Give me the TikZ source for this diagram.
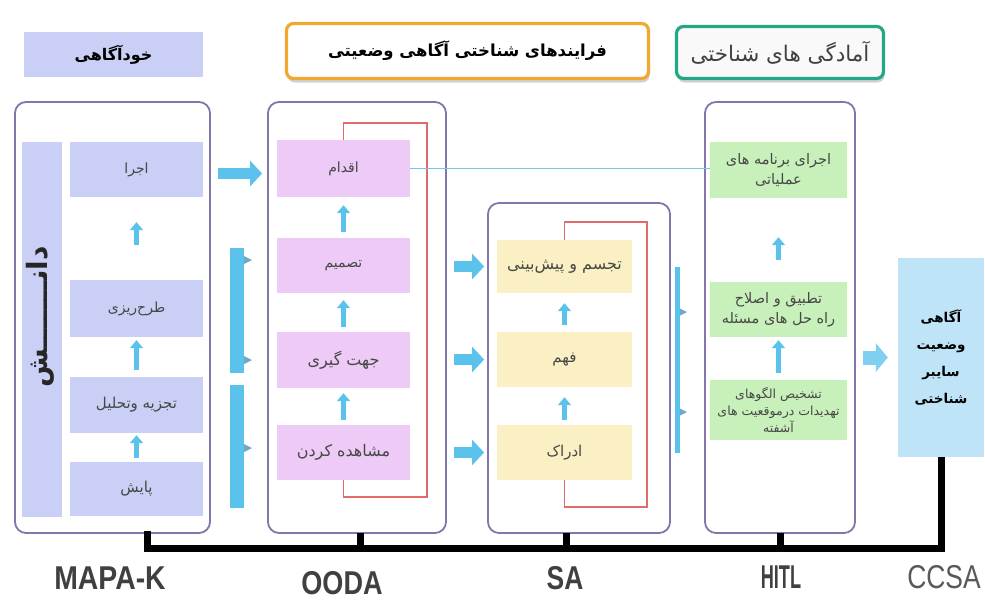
\documentclass[tikz,border=0pt]{standalone}
\usepackage{fontspec}
\setmainfont{Liberation Sans}
\newfontfamily\arabicfont[Script=Arabic]{DejaVu Sans}
\TeXXeTstate=1
\usetikzlibrary{arrows.meta,shadows}
\newcommand{\fatxt}[1]{{\arabicfont\beginR #1\endR}}
\definecolor{lav}{HTML}{C9CFF5}
\definecolor{pinkb}{HTML}{EDCBF6}
\definecolor{yel}{HTML}{FAF0C4}
\definecolor{grn}{HTML}{C8F0BA}
\definecolor{framec}{HTML}{8276AC}
\definecolor{cyanA}{HTML}{5BC3EB}
\definecolor{cyanB}{HTML}{7FCFF0}
\definecolor{redl}{HTML}{E26A6A}
\definecolor{ccsac}{HTML}{BFE4F8}
\definecolor{orangeb}{HTML}{F0A830}
\definecolor{tealb}{HTML}{22A884}
\definecolor{lineb}{HTML}{7DC0EA}
\definecolor{tickc}{HTML}{6FA9C9}
\begin{document}
\begin{tikzpicture}[x=1pt,y=-1pt,
  container/.style={draw=framec, line width=1.8pt, rounded corners=11pt, inner sep=0pt},
  stagebox/.style={inner sep=1pt, align=center, text=black!72, font=\arabicfont\fontsize{14}{18}\selectfont},
  mapabox/.style={stagebox, fill=lav, minimum width=133pt},
  oodabox/.style={stagebox, fill=pinkb, minimum width=133pt},
  sabox/.style={stagebox, fill=yel, minimum width=135pt},
  hitlbox/.style={stagebox, fill=grn, minimum width=137pt, font=\arabicfont\fontsize{14.5}{20}\selectfont},
  upA/.style={cyanA, line width=5pt, -{Triangle[length=8pt,width=13pt]}},
  bigA/.style={cyanA, line width=11pt, -{Triangle[length=12pt,width=25pt]}},
  feedback/.style={redl, line width=1.6pt},
  timeline/.style={line width=7pt, black},
  lbl/.style={inner sep=0pt, text=black!75, font=\bfseries\fontsize{33}{33}\selectfont}
]
\useasboundingbox (0,0) rectangle (985,608);
\fill[white] (0,0) rectangle (985,608);

% ---- titles
\node[fill=lav, minimum width=179pt, minimum height=45pt, font=\bfseries\fontsize{16}{18}\selectfont] (khod) at (113.5,54.5) {\fatxt{خودآگاهی}};
\node[draw=orangeb, line width=3.2pt, rounded corners=7pt, fill=white,
      drop shadow={opacity=0.35, shadow xshift=1pt, shadow yshift=-4pt},
      minimum width=362pt, minimum height=55pt, font=\bfseries\fontsize{16.5}{18}\selectfont] (fcp) at (467.5,51) {\fatxt{فرایندهای شناختی آگاهی وضعیتی}};
\node[draw=tealb, line width=3.2pt, rounded corners=7pt, fill=gray!5,
      drop shadow={opacity=0.35, shadow xshift=1pt, shadow yshift=-4pt},
      minimum width=207pt, minimum height=52pt, text=black!75, font=\fontsize{21.5}{24}\selectfont] (amad) at (780,52.5) {\fatxt{آمادگی های شناختی}};

% ---- containers
\node[container, minimum width=195pt, minimum height=431pt] (mapa) at (112.5,317.5) {};
\node[container, minimum width=178pt, minimum height=431pt] (ooda) at (357,317.5) {};
\node[container, minimum width=182pt, minimum height=330pt] (sa) at (579,368) {};
\node[container, minimum width=150pt, minimum height=431pt] (hitl) at (780,317.5) {};

% ---- MAPA-K
\node[fill=lav, minimum width=40pt, minimum height=375pt, inner sep=0pt] (dnsh) at (42,329.5) {};
\node[rotate=90, inner sep=0pt, text=black!85, font=\bfseries\fontsize{28}{30}\selectfont] (dnsht) at (40,317) {\fatxt{دانـــــــش}};
\node[mapabox, minimum height=55pt] (ejra) at (136.5,169.5) {\fatxt{اجرا}};
\node[mapabox, minimum height=57pt] (tarh) at (136.5,308.5) {\fatxt{طرح‌ریزی}};
\node[mapabox, minimum height=56pt, font=\arabicfont\fontsize{15}{18}\selectfont] (tajzie) at (136.5,405) {\fatxt{تجزیه وتحلیل}};
\node[mapabox, minimum height=54pt, font=\arabicfont\fontsize{15}{18}\selectfont] (payesh) at (136.5,489) {\fatxt{پایش}};
\draw[upA, shorten <=35pt, shorten >=25pt] (tarh.north) -- (ejra.south);
\draw[upA, shorten <=7pt, shorten >=3pt] (tajzie.north) -- (tarh.south);
\draw[upA, shorten <=4pt, shorten >=2pt] (payesh.north) -- (tajzie.south);

% ---- OODA
\node[oodabox, minimum height=57pt] (eqdam) at (343.5,168.5) {\fatxt{اقدام}};
\node[oodabox, minimum height=55pt] (tasmim) at (343.5,265.5) {\fatxt{تصمیم}};
\node[oodabox, minimum height=56pt, font=\arabicfont\fontsize{16}{18}\selectfont] (jahat) at (343.5,360) {\fatxt{جهت گیری}};
\node[oodabox, minimum height=55pt, font=\arabicfont\fontsize{16}{18}\selectfont] (moshahede) at (343.5,452.5) {\fatxt{مشاهده کردن}};
\draw[upA, shorten <=6pt, shorten >=8pt] (tasmim.north) -- (eqdam.south);
\draw[upA, shorten <=5pt, shorten >=7pt] (jahat.north) -- (tasmim.south);
\draw[upA, shorten <=5pt, shorten >=5pt] (moshahede.north) -- (jahat.south);
\draw[feedback] (eqdam.north) |- (427,123) -- (427,497) -| (moshahede.south);

% ---- SA
\node[sabox, minimum height=53pt, font=\arabicfont\fontsize{16}{18}\selectfont] (tajassom) at (564.5,266.5) {\fatxt{تجسم و پیش‌بینی}};
\node[sabox, minimum height=55pt, font=\arabicfont\fontsize{15}{18}\selectfont] (fahm) at (564.5,359.5) {\fatxt{فهم}};
\node[sabox, minimum height=55pt, font=\arabicfont\fontsize{15}{18}\selectfont] (edrak) at (564.5,452.5) {\fatxt{ادراک}};
\draw[upA, shorten <=7pt, shorten >=10pt] (fahm.north) -- (tajassom.south);
\draw[upA, shorten <=5pt, shorten >=10pt] (edrak.north) -- (fahm.south);
\draw[feedback] (tajassom.north) |- (647,222) -- (647,507) -| (edrak.south);

% ---- HITL
\node[hitlbox, minimum height=56pt] (h1) at (778.5,170) {\fatxt{اجرای برنامه های}\\\fatxt{عملیاتی}};
\node[hitlbox, minimum height=55pt] (h2) at (778.5,309.5) {\fatxt{تطبیق و اصلاح}\\\fatxt{راه حل های مسئله}};
\node[hitlbox, minimum height=60pt, font=\arabicfont\fontsize{12.5}{17}\selectfont] (h3) at (778.5,410) {\fatxt{تشخیص الگوهای}\\\fatxt{تهدیدات درموقعیت های}\\\fatxt{آشفته}};
\draw[upA, shorten <=22pt, shorten >=39pt] (h2.north) -- (h1.south);
\draw[upA, shorten <=7pt, shorten >=3pt] (h3.north) -- (h2.south);

% ---- CCSA
\node[fill=ccsac, minimum width=86pt, minimum height=199pt, align=center, inner sep=0pt,
      font=\bfseries\fontsize{13.5}{27}\selectfont] (ccsa) at (941,357.5)
      {\fatxt{آگاهی}\\\fatxt{وضعیت}\\\fatxt{سایبر}\\\fatxt{شناختی}};

% ---- connectors
\draw[lineb, line width=1.2pt] (eqdam.east) -- (eqdam.east -| h1.west);
\path (ejra.east) ++(0,4) coordinate (ma);
\draw[bigA, shorten <=7pt, shorten >=5pt] (mapa.east |- ma) -- (ooda.west |- ma);
\draw[bigA, shorten <=7pt, shorten >=3pt] (ooda.east |- tajassom) -- (sa.west |- tajassom);
\draw[bigA, shorten <=7pt, shorten >=3pt] (ooda.east |- fahm) -- (sa.west |- fahm);
\draw[bigA, shorten <=7pt, shorten >=3pt] (ooda.east |- edrak) -- (sa.west |- edrak);
\draw[cyanB, line width=14pt, -{Triangle[length=12pt,width=28pt]}, shorten <=7pt, shorten >=10pt] (hitl.east |- ccsa) -- (ccsa.west);

% ---- brackets
\fill[cyanA] (230,248) rectangle (244,373);
\fill[cyanA] (230,385) rectangle (244,508);
\foreach \yy in {260,360,448} \fill[tickc] (244,\yy-4) -- (252,\yy) -- (244,\yy+4) -- cycle;
\fill[cyanA] (675,267) rectangle (680,453);
\foreach \yy in {312,412} \fill[tickc] (680,\yy-3.5) -- (687,\yy) -- (680,\yy+3.5) -- cycle;

% ---- timeline
\coordinate (k1) at (147,531);
\coordinate (k2) at (360,533);
\coordinate (k3) at (566,533);
\coordinate (k4) at (780,533);
\coordinate (base) at (0,548);
\draw[timeline] (k1) |- (ccsa.south |- base) -- (ccsa.south);
\draw[timeline] (k2) -- (k2 |- base);
\draw[timeline] (k3) -- (k3 |- base);
\draw[timeline] (k4) -- (k4 |- base);

% ---- labels
\node[lbl] (lmapa) at (110,578) {\scalebox{0.86}[1]{MAPA-K}};
\node[lbl] (looda) at (342,583) {\scalebox{0.82}[1]{OODA}};
\node[lbl] (lsa) at (565,578) {\scalebox{0.8}[1]{SA}};
\node[lbl] (lhitl) at (781,577) {\scalebox{0.55}[1]{HITL}};
\node[lbl, font=\fontsize{33}{33}\selectfont, text=black!65] (lccsa) at (944,577) {\scalebox{0.8}[1]{CCSA}};
\end{tikzpicture}
\end{document}
